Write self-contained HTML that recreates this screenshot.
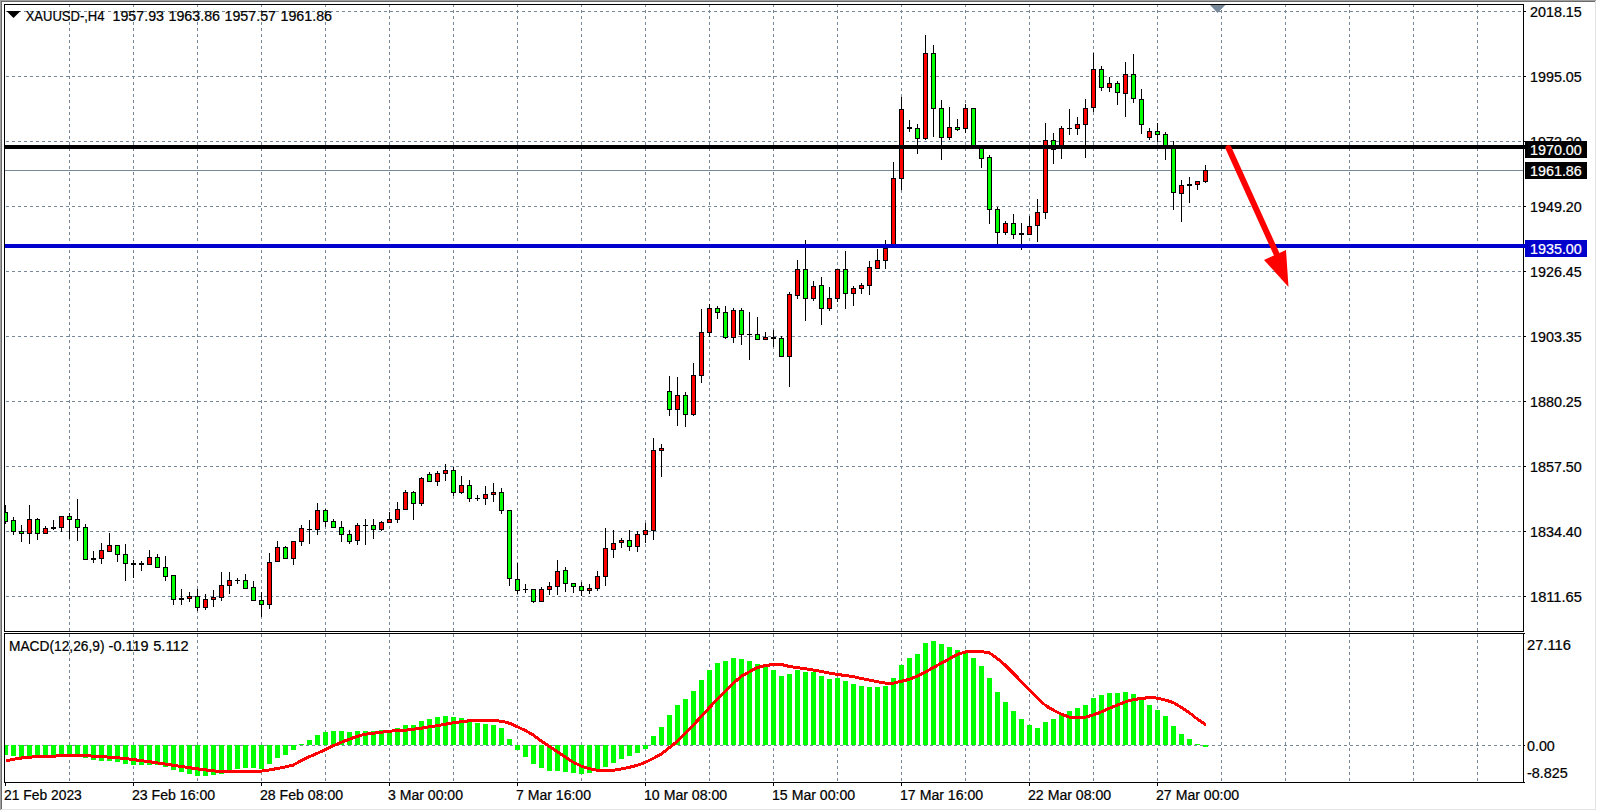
<!DOCTYPE html><html><head><meta charset="utf-8"><title>XAUUSD-,H4</title>
<style>html,body{margin:0;padding:0;background:#fff}body{width:1597px;height:811px;overflow:hidden;position:relative}svg{position:absolute;left:0;top:0;display:block}text{font-family:"Liberation Sans",sans-serif;font-size:14px;fill:#000;stroke:#000;stroke-width:.22px}.w{fill:#fff;stroke:#fff}</style></head><body>
<svg width="1597" height="811" viewBox="0 0 1597 811">
<g shape-rendering="crispEdges">
<rect x="0" y="0" width="1597" height="1" fill="#a0a0a0"/>
<rect x="0" y="0" width="1" height="811" fill="#a0a0a0"/>
<rect x="1" y="1" width="1595" height="1" fill="#696969"/>
<rect x="1" y="1" width="1" height="809" fill="#696969"/>
<rect x="1" y="809" width="1595" height="1" fill="#e3e3e3"/>
<rect x="1595" y="1" width="1" height="809" fill="#e3e3e3"/>
<rect x="0" y="810" width="1597" height="1" fill="#fff"/>
<rect x="1596" y="0" width="1" height="811" fill="#fff"/>
<line x1="69.5" y1="4" x2="69.5" y2="631" stroke="#778899" stroke-width="1" stroke-dasharray="3 3" stroke-dashoffset="0"/>
<line x1="69.5" y1="634" x2="69.5" y2="782" stroke="#778899" stroke-width="1" stroke-dasharray="3 3" stroke-dashoffset="0"/>
<line x1="133.5" y1="4" x2="133.5" y2="631" stroke="#778899" stroke-width="1" stroke-dasharray="3 3" stroke-dashoffset="0"/>
<line x1="133.5" y1="634" x2="133.5" y2="782" stroke="#778899" stroke-width="1" stroke-dasharray="3 3" stroke-dashoffset="0"/>
<line x1="197.5" y1="4" x2="197.5" y2="631" stroke="#778899" stroke-width="1" stroke-dasharray="3 3" stroke-dashoffset="0"/>
<line x1="197.5" y1="634" x2="197.5" y2="782" stroke="#778899" stroke-width="1" stroke-dasharray="3 3" stroke-dashoffset="0"/>
<line x1="261.5" y1="4" x2="261.5" y2="631" stroke="#778899" stroke-width="1" stroke-dasharray="3 3" stroke-dashoffset="0"/>
<line x1="261.5" y1="634" x2="261.5" y2="782" stroke="#778899" stroke-width="1" stroke-dasharray="3 3" stroke-dashoffset="0"/>
<line x1="325.5" y1="4" x2="325.5" y2="631" stroke="#778899" stroke-width="1" stroke-dasharray="3 3" stroke-dashoffset="0"/>
<line x1="325.5" y1="634" x2="325.5" y2="782" stroke="#778899" stroke-width="1" stroke-dasharray="3 3" stroke-dashoffset="0"/>
<line x1="389.5" y1="4" x2="389.5" y2="631" stroke="#778899" stroke-width="1" stroke-dasharray="3 3" stroke-dashoffset="0"/>
<line x1="389.5" y1="634" x2="389.5" y2="782" stroke="#778899" stroke-width="1" stroke-dasharray="3 3" stroke-dashoffset="0"/>
<line x1="453.5" y1="4" x2="453.5" y2="631" stroke="#778899" stroke-width="1" stroke-dasharray="3 3" stroke-dashoffset="0"/>
<line x1="453.5" y1="634" x2="453.5" y2="782" stroke="#778899" stroke-width="1" stroke-dasharray="3 3" stroke-dashoffset="0"/>
<line x1="517.5" y1="4" x2="517.5" y2="631" stroke="#778899" stroke-width="1" stroke-dasharray="3 3" stroke-dashoffset="0"/>
<line x1="517.5" y1="634" x2="517.5" y2="782" stroke="#778899" stroke-width="1" stroke-dasharray="3 3" stroke-dashoffset="0"/>
<line x1="581.5" y1="4" x2="581.5" y2="631" stroke="#778899" stroke-width="1" stroke-dasharray="3 3" stroke-dashoffset="0"/>
<line x1="581.5" y1="634" x2="581.5" y2="782" stroke="#778899" stroke-width="1" stroke-dasharray="3 3" stroke-dashoffset="0"/>
<line x1="645.5" y1="4" x2="645.5" y2="631" stroke="#778899" stroke-width="1" stroke-dasharray="3 3" stroke-dashoffset="0"/>
<line x1="645.5" y1="634" x2="645.5" y2="782" stroke="#778899" stroke-width="1" stroke-dasharray="3 3" stroke-dashoffset="0"/>
<line x1="709.5" y1="4" x2="709.5" y2="631" stroke="#778899" stroke-width="1" stroke-dasharray="3 3" stroke-dashoffset="0"/>
<line x1="709.5" y1="634" x2="709.5" y2="782" stroke="#778899" stroke-width="1" stroke-dasharray="3 3" stroke-dashoffset="0"/>
<line x1="773.5" y1="4" x2="773.5" y2="631" stroke="#778899" stroke-width="1" stroke-dasharray="3 3" stroke-dashoffset="0"/>
<line x1="773.5" y1="634" x2="773.5" y2="782" stroke="#778899" stroke-width="1" stroke-dasharray="3 3" stroke-dashoffset="0"/>
<line x1="837.5" y1="4" x2="837.5" y2="631" stroke="#778899" stroke-width="1" stroke-dasharray="3 3" stroke-dashoffset="0"/>
<line x1="837.5" y1="634" x2="837.5" y2="782" stroke="#778899" stroke-width="1" stroke-dasharray="3 3" stroke-dashoffset="0"/>
<line x1="901.5" y1="4" x2="901.5" y2="631" stroke="#778899" stroke-width="1" stroke-dasharray="3 3" stroke-dashoffset="0"/>
<line x1="901.5" y1="634" x2="901.5" y2="782" stroke="#778899" stroke-width="1" stroke-dasharray="3 3" stroke-dashoffset="0"/>
<line x1="965.5" y1="4" x2="965.5" y2="631" stroke="#778899" stroke-width="1" stroke-dasharray="3 3" stroke-dashoffset="0"/>
<line x1="965.5" y1="634" x2="965.5" y2="782" stroke="#778899" stroke-width="1" stroke-dasharray="3 3" stroke-dashoffset="0"/>
<line x1="1029.5" y1="4" x2="1029.5" y2="631" stroke="#778899" stroke-width="1" stroke-dasharray="3 3" stroke-dashoffset="0"/>
<line x1="1029.5" y1="634" x2="1029.5" y2="782" stroke="#778899" stroke-width="1" stroke-dasharray="3 3" stroke-dashoffset="0"/>
<line x1="1093.5" y1="4" x2="1093.5" y2="631" stroke="#778899" stroke-width="1" stroke-dasharray="3 3" stroke-dashoffset="0"/>
<line x1="1093.5" y1="634" x2="1093.5" y2="782" stroke="#778899" stroke-width="1" stroke-dasharray="3 3" stroke-dashoffset="0"/>
<line x1="1157.5" y1="4" x2="1157.5" y2="631" stroke="#778899" stroke-width="1" stroke-dasharray="3 3" stroke-dashoffset="0"/>
<line x1="1157.5" y1="634" x2="1157.5" y2="782" stroke="#778899" stroke-width="1" stroke-dasharray="3 3" stroke-dashoffset="0"/>
<line x1="1221.5" y1="4" x2="1221.5" y2="631" stroke="#778899" stroke-width="1" stroke-dasharray="3 3" stroke-dashoffset="0"/>
<line x1="1221.5" y1="634" x2="1221.5" y2="782" stroke="#778899" stroke-width="1" stroke-dasharray="3 3" stroke-dashoffset="0"/>
<line x1="1285.5" y1="4" x2="1285.5" y2="631" stroke="#778899" stroke-width="1" stroke-dasharray="3 3" stroke-dashoffset="0"/>
<line x1="1285.5" y1="634" x2="1285.5" y2="782" stroke="#778899" stroke-width="1" stroke-dasharray="3 3" stroke-dashoffset="0"/>
<line x1="1349.5" y1="4" x2="1349.5" y2="631" stroke="#778899" stroke-width="1" stroke-dasharray="3 3" stroke-dashoffset="0"/>
<line x1="1349.5" y1="634" x2="1349.5" y2="782" stroke="#778899" stroke-width="1" stroke-dasharray="3 3" stroke-dashoffset="0"/>
<line x1="1413.5" y1="4" x2="1413.5" y2="631" stroke="#778899" stroke-width="1" stroke-dasharray="3 3" stroke-dashoffset="0"/>
<line x1="1413.5" y1="634" x2="1413.5" y2="782" stroke="#778899" stroke-width="1" stroke-dasharray="3 3" stroke-dashoffset="0"/>
<line x1="1477.5" y1="4" x2="1477.5" y2="631" stroke="#778899" stroke-width="1" stroke-dasharray="3 3" stroke-dashoffset="0"/>
<line x1="1477.5" y1="634" x2="1477.5" y2="782" stroke="#778899" stroke-width="1" stroke-dasharray="3 3" stroke-dashoffset="0"/>
<line x1="6" y1="11.5" x2="1523" y2="11.5" stroke="#778899" stroke-width="1" stroke-dasharray="3 3"/>
<line x1="6" y1="76.5" x2="1523" y2="76.5" stroke="#778899" stroke-width="1" stroke-dasharray="3 3"/>
<line x1="6" y1="141.5" x2="1523" y2="141.5" stroke="#778899" stroke-width="1" stroke-dasharray="3 3"/>
<line x1="6" y1="206.5" x2="1523" y2="206.5" stroke="#778899" stroke-width="1" stroke-dasharray="3 3"/>
<line x1="6" y1="271.5" x2="1523" y2="271.5" stroke="#778899" stroke-width="1" stroke-dasharray="3 3"/>
<line x1="6" y1="336.5" x2="1523" y2="336.5" stroke="#778899" stroke-width="1" stroke-dasharray="3 3"/>
<line x1="6" y1="401.5" x2="1523" y2="401.5" stroke="#778899" stroke-width="1" stroke-dasharray="3 3"/>
<line x1="6" y1="466.5" x2="1523" y2="466.5" stroke="#778899" stroke-width="1" stroke-dasharray="3 3"/>
<line x1="6" y1="531.5" x2="1523" y2="531.5" stroke="#778899" stroke-width="1" stroke-dasharray="3 3"/>
<line x1="6" y1="596.5" x2="1523" y2="596.5" stroke="#778899" stroke-width="1" stroke-dasharray="3 3"/>
<line x1="6" y1="745.5" x2="1523" y2="745.5" stroke="#778899" stroke-width="1" stroke-dasharray="3 3"/>
<polygon points="1210,5 1225.3,5 1217.6,13" fill="#778899" shape-rendering="auto"/>
<rect x="5" y="170" width="1518" height="1" fill="#778899"/>
<rect x="5" y="505" width="1" height="19" fill="#000"/>
<rect x="3" y="512" width="5" height="10" fill="#000"/>
<rect x="4" y="513" width="3" height="8" fill="#0f0"/>
<rect x="13" y="517" width="1" height="18" fill="#000"/>
<rect x="11" y="520" width="5" height="12" fill="#000"/>
<rect x="12" y="521" width="3" height="10" fill="#0f0"/>
<rect x="21" y="525" width="1" height="17" fill="#000"/>
<rect x="19" y="531" width="5" height="3" fill="#000"/>
<rect x="20" y="532" width="3" height="1" fill="#0f0"/>
<rect x="29" y="505" width="1" height="39" fill="#000"/>
<rect x="27" y="519" width="5" height="15" fill="#000"/>
<rect x="28" y="520" width="3" height="13" fill="#f00"/>
<rect x="37" y="518" width="1" height="22" fill="#000"/>
<rect x="35" y="519" width="5" height="15" fill="#000"/>
<rect x="36" y="520" width="3" height="13" fill="#0f0"/>
<rect x="45" y="526" width="1" height="8" fill="#000"/>
<rect x="43" y="528" width="5" height="6" fill="#000"/>
<rect x="44" y="529" width="3" height="4" fill="#f00"/>
<rect x="53" y="520" width="1" height="10" fill="#000"/>
<rect x="51" y="527" width="5" height="2" fill="#000"/>
<rect x="61" y="516" width="1" height="16" fill="#000"/>
<rect x="59" y="516" width="5" height="12" fill="#000"/>
<rect x="60" y="517" width="3" height="10" fill="#f00"/>
<rect x="69" y="513" width="1" height="26" fill="#000"/>
<rect x="67" y="516" width="5" height="4" fill="#000"/>
<rect x="68" y="517" width="3" height="2" fill="#0f0"/>
<rect x="77" y="499" width="1" height="42" fill="#000"/>
<rect x="75" y="519" width="5" height="9" fill="#000"/>
<rect x="76" y="520" width="3" height="7" fill="#0f0"/>
<rect x="85" y="524" width="1" height="36" fill="#000"/>
<rect x="83" y="527" width="5" height="33" fill="#000"/>
<rect x="84" y="528" width="3" height="31" fill="#0f0"/>
<rect x="93" y="551" width="1" height="12" fill="#000"/>
<rect x="91" y="558" width="5" height="2" fill="#000"/>
<rect x="101" y="543" width="1" height="21" fill="#000"/>
<rect x="99" y="550" width="5" height="9" fill="#000"/>
<rect x="100" y="551" width="3" height="7" fill="#f00"/>
<rect x="109" y="533" width="1" height="19" fill="#000"/>
<rect x="107" y="545" width="5" height="7" fill="#000"/>
<rect x="108" y="546" width="3" height="5" fill="#f00"/>
<rect x="117" y="545" width="1" height="17" fill="#000"/>
<rect x="115" y="545" width="5" height="10" fill="#000"/>
<rect x="116" y="546" width="3" height="8" fill="#0f0"/>
<rect x="125" y="544" width="1" height="37" fill="#000"/>
<rect x="123" y="554" width="5" height="10" fill="#000"/>
<rect x="124" y="555" width="3" height="8" fill="#0f0"/>
<rect x="133" y="560" width="1" height="18" fill="#000"/>
<rect x="131" y="563" width="5" height="2" fill="#000"/>
<rect x="141" y="561" width="1" height="10" fill="#000"/>
<rect x="139" y="563" width="5" height="2" fill="#000"/>
<rect x="149" y="550" width="1" height="15" fill="#000"/>
<rect x="147" y="557" width="5" height="8" fill="#000"/>
<rect x="148" y="558" width="3" height="6" fill="#f00"/>
<rect x="157" y="554" width="1" height="14" fill="#000"/>
<rect x="155" y="557" width="5" height="11" fill="#000"/>
<rect x="156" y="558" width="3" height="9" fill="#0f0"/>
<rect x="165" y="556" width="1" height="25" fill="#000"/>
<rect x="163" y="567" width="5" height="10" fill="#000"/>
<rect x="164" y="568" width="3" height="8" fill="#0f0"/>
<rect x="173" y="575" width="1" height="30" fill="#000"/>
<rect x="171" y="575" width="5" height="25" fill="#000"/>
<rect x="172" y="576" width="3" height="23" fill="#0f0"/>
<rect x="181" y="589" width="1" height="16" fill="#000"/>
<rect x="179" y="598" width="5" height="2" fill="#000"/>
<rect x="189" y="592" width="1" height="10" fill="#000"/>
<rect x="187" y="596" width="5" height="3" fill="#000"/>
<rect x="188" y="597" width="3" height="1" fill="#f00"/>
<rect x="197" y="589" width="1" height="22" fill="#000"/>
<rect x="195" y="596" width="5" height="12" fill="#000"/>
<rect x="196" y="597" width="3" height="10" fill="#0f0"/>
<rect x="205" y="594" width="1" height="16" fill="#000"/>
<rect x="203" y="599" width="5" height="9" fill="#000"/>
<rect x="204" y="600" width="3" height="7" fill="#f00"/>
<rect x="213" y="590" width="1" height="17" fill="#000"/>
<rect x="211" y="597" width="5" height="3" fill="#000"/>
<rect x="212" y="598" width="3" height="1" fill="#f00"/>
<rect x="221" y="572" width="1" height="29" fill="#000"/>
<rect x="219" y="585" width="5" height="13" fill="#000"/>
<rect x="220" y="586" width="3" height="11" fill="#f00"/>
<rect x="229" y="572" width="1" height="22" fill="#000"/>
<rect x="227" y="580" width="5" height="6" fill="#000"/>
<rect x="228" y="581" width="3" height="4" fill="#f00"/>
<rect x="237" y="578" width="1" height="6" fill="#000"/>
<rect x="235" y="580" width="5" height="1" fill="#000"/>
<rect x="245" y="574" width="1" height="15" fill="#000"/>
<rect x="243" y="580" width="5" height="9" fill="#000"/>
<rect x="244" y="581" width="3" height="7" fill="#0f0"/>
<rect x="253" y="581" width="1" height="20" fill="#000"/>
<rect x="251" y="587" width="5" height="14" fill="#000"/>
<rect x="252" y="588" width="3" height="12" fill="#0f0"/>
<rect x="261" y="592" width="1" height="25" fill="#000"/>
<rect x="259" y="600" width="5" height="5" fill="#000"/>
<rect x="260" y="601" width="3" height="3" fill="#0f0"/>
<rect x="269" y="553" width="1" height="56" fill="#000"/>
<rect x="267" y="562" width="5" height="43" fill="#000"/>
<rect x="268" y="563" width="3" height="41" fill="#f00"/>
<rect x="277" y="541" width="1" height="21" fill="#000"/>
<rect x="275" y="547" width="5" height="15" fill="#000"/>
<rect x="276" y="548" width="3" height="13" fill="#f00"/>
<rect x="285" y="546" width="1" height="13" fill="#000"/>
<rect x="283" y="547" width="5" height="12" fill="#000"/>
<rect x="284" y="548" width="3" height="10" fill="#0f0"/>
<rect x="293" y="541" width="1" height="24" fill="#000"/>
<rect x="291" y="541" width="5" height="18" fill="#000"/>
<rect x="292" y="542" width="3" height="16" fill="#f00"/>
<rect x="301" y="525" width="1" height="21" fill="#000"/>
<rect x="299" y="528" width="5" height="14" fill="#000"/>
<rect x="300" y="529" width="3" height="12" fill="#f00"/>
<rect x="309" y="520" width="1" height="24" fill="#000"/>
<rect x="307" y="529" width="5" height="1" fill="#000"/>
<rect x="317" y="503" width="1" height="32" fill="#000"/>
<rect x="315" y="510" width="5" height="20" fill="#000"/>
<rect x="316" y="511" width="3" height="18" fill="#f00"/>
<rect x="325" y="509" width="1" height="18" fill="#000"/>
<rect x="323" y="510" width="5" height="12" fill="#000"/>
<rect x="324" y="511" width="3" height="10" fill="#0f0"/>
<rect x="333" y="519" width="1" height="9" fill="#000"/>
<rect x="331" y="521" width="5" height="7" fill="#000"/>
<rect x="332" y="522" width="3" height="5" fill="#0f0"/>
<rect x="341" y="521" width="1" height="21" fill="#000"/>
<rect x="339" y="527" width="5" height="8" fill="#000"/>
<rect x="340" y="528" width="3" height="6" fill="#0f0"/>
<rect x="349" y="530" width="1" height="14" fill="#000"/>
<rect x="347" y="534" width="5" height="8" fill="#000"/>
<rect x="348" y="535" width="3" height="6" fill="#0f0"/>
<rect x="357" y="523" width="1" height="22" fill="#000"/>
<rect x="355" y="525" width="5" height="16" fill="#000"/>
<rect x="356" y="526" width="3" height="14" fill="#f00"/>
<rect x="365" y="519" width="1" height="26" fill="#000"/>
<rect x="363" y="525" width="5" height="1" fill="#000"/>
<rect x="373" y="519" width="1" height="20" fill="#000"/>
<rect x="371" y="525" width="5" height="5" fill="#000"/>
<rect x="372" y="526" width="3" height="3" fill="#0f0"/>
<rect x="381" y="521" width="1" height="10" fill="#000"/>
<rect x="379" y="522" width="5" height="8" fill="#000"/>
<rect x="380" y="523" width="3" height="6" fill="#f00"/>
<rect x="389" y="512" width="1" height="11" fill="#000"/>
<rect x="387" y="519" width="5" height="4" fill="#000"/>
<rect x="388" y="520" width="3" height="2" fill="#f00"/>
<rect x="397" y="502" width="1" height="21" fill="#000"/>
<rect x="395" y="509" width="5" height="11" fill="#000"/>
<rect x="396" y="510" width="3" height="9" fill="#f00"/>
<rect x="405" y="490" width="1" height="20" fill="#000"/>
<rect x="403" y="492" width="5" height="18" fill="#000"/>
<rect x="404" y="493" width="3" height="16" fill="#f00"/>
<rect x="413" y="491" width="1" height="29" fill="#000"/>
<rect x="411" y="492" width="5" height="12" fill="#000"/>
<rect x="412" y="493" width="3" height="10" fill="#0f0"/>
<rect x="421" y="477" width="1" height="29" fill="#000"/>
<rect x="419" y="478" width="5" height="26" fill="#000"/>
<rect x="420" y="479" width="3" height="24" fill="#f00"/>
<rect x="429" y="472" width="1" height="10" fill="#000"/>
<rect x="427" y="474" width="5" height="8" fill="#000"/>
<rect x="428" y="475" width="3" height="6" fill="#0f0"/>
<rect x="437" y="471" width="1" height="15" fill="#000"/>
<rect x="435" y="473" width="5" height="9" fill="#000"/>
<rect x="436" y="474" width="3" height="7" fill="#f00"/>
<rect x="445" y="464" width="1" height="17" fill="#000"/>
<rect x="443" y="470" width="5" height="4" fill="#000"/>
<rect x="444" y="471" width="3" height="2" fill="#f00"/>
<rect x="453" y="467" width="1" height="29" fill="#000"/>
<rect x="451" y="470" width="5" height="23" fill="#000"/>
<rect x="452" y="471" width="3" height="21" fill="#0f0"/>
<rect x="461" y="476" width="1" height="18" fill="#000"/>
<rect x="459" y="485" width="5" height="8" fill="#000"/>
<rect x="460" y="486" width="3" height="6" fill="#f00"/>
<rect x="469" y="480" width="1" height="22" fill="#000"/>
<rect x="467" y="485" width="5" height="14" fill="#000"/>
<rect x="468" y="486" width="3" height="12" fill="#0f0"/>
<rect x="477" y="495" width="1" height="6" fill="#000"/>
<rect x="475" y="498" width="5" height="1" fill="#000"/>
<rect x="485" y="486" width="1" height="19" fill="#000"/>
<rect x="483" y="494" width="5" height="5" fill="#000"/>
<rect x="484" y="495" width="3" height="3" fill="#f00"/>
<rect x="493" y="483" width="1" height="19" fill="#000"/>
<rect x="491" y="492" width="5" height="3" fill="#000"/>
<rect x="492" y="493" width="3" height="1" fill="#f00"/>
<rect x="501" y="488" width="1" height="26" fill="#000"/>
<rect x="499" y="492" width="5" height="19" fill="#000"/>
<rect x="500" y="493" width="3" height="17" fill="#0f0"/>
<rect x="509" y="510" width="1" height="76" fill="#000"/>
<rect x="507" y="510" width="5" height="69" fill="#000"/>
<rect x="508" y="511" width="3" height="67" fill="#0f0"/>
<rect x="517" y="563" width="1" height="31" fill="#000"/>
<rect x="515" y="579" width="5" height="12" fill="#000"/>
<rect x="516" y="580" width="3" height="10" fill="#0f0"/>
<rect x="525" y="584" width="1" height="9" fill="#000"/>
<rect x="523" y="589" width="5" height="1" fill="#000"/>
<rect x="533" y="589" width="1" height="14" fill="#000"/>
<rect x="531" y="589" width="5" height="13" fill="#000"/>
<rect x="532" y="590" width="3" height="11" fill="#0f0"/>
<rect x="541" y="587" width="1" height="15" fill="#000"/>
<rect x="539" y="589" width="5" height="13" fill="#000"/>
<rect x="540" y="590" width="3" height="11" fill="#f00"/>
<rect x="549" y="582" width="1" height="13" fill="#000"/>
<rect x="547" y="586" width="5" height="4" fill="#000"/>
<rect x="548" y="587" width="3" height="2" fill="#f00"/>
<rect x="557" y="560" width="1" height="35" fill="#000"/>
<rect x="555" y="571" width="5" height="16" fill="#000"/>
<rect x="556" y="572" width="3" height="14" fill="#f00"/>
<rect x="565" y="567" width="1" height="25" fill="#000"/>
<rect x="563" y="570" width="5" height="14" fill="#000"/>
<rect x="564" y="571" width="3" height="12" fill="#0f0"/>
<rect x="573" y="583" width="1" height="10" fill="#000"/>
<rect x="571" y="583" width="5" height="4" fill="#000"/>
<rect x="572" y="584" width="3" height="2" fill="#0f0"/>
<rect x="581" y="582" width="1" height="14" fill="#000"/>
<rect x="579" y="586" width="5" height="5" fill="#000"/>
<rect x="580" y="587" width="3" height="3" fill="#0f0"/>
<rect x="589" y="584" width="1" height="10" fill="#000"/>
<rect x="587" y="588" width="5" height="3" fill="#000"/>
<rect x="588" y="589" width="3" height="1" fill="#f00"/>
<rect x="597" y="571" width="1" height="20" fill="#000"/>
<rect x="595" y="576" width="5" height="13" fill="#000"/>
<rect x="596" y="577" width="3" height="11" fill="#f00"/>
<rect x="605" y="528" width="1" height="58" fill="#000"/>
<rect x="603" y="548" width="5" height="29" fill="#000"/>
<rect x="604" y="549" width="3" height="27" fill="#f00"/>
<rect x="613" y="530" width="1" height="28" fill="#000"/>
<rect x="611" y="543" width="5" height="7" fill="#000"/>
<rect x="612" y="544" width="3" height="5" fill="#f00"/>
<rect x="621" y="538" width="1" height="10" fill="#000"/>
<rect x="619" y="540" width="5" height="3" fill="#000"/>
<rect x="620" y="541" width="3" height="1" fill="#f00"/>
<rect x="629" y="530" width="1" height="21" fill="#000"/>
<rect x="627" y="540" width="5" height="7" fill="#000"/>
<rect x="628" y="541" width="3" height="5" fill="#0f0"/>
<rect x="637" y="531" width="1" height="21" fill="#000"/>
<rect x="635" y="534" width="5" height="13" fill="#000"/>
<rect x="636" y="535" width="3" height="11" fill="#f00"/>
<rect x="645" y="523" width="1" height="20" fill="#000"/>
<rect x="643" y="530" width="5" height="5" fill="#000"/>
<rect x="644" y="531" width="3" height="3" fill="#f00"/>
<rect x="653" y="438" width="1" height="102" fill="#000"/>
<rect x="651" y="450" width="5" height="81" fill="#000"/>
<rect x="652" y="451" width="3" height="79" fill="#f00"/>
<rect x="661" y="444" width="1" height="33" fill="#000"/>
<rect x="659" y="448" width="5" height="3" fill="#000"/>
<rect x="660" y="449" width="3" height="1" fill="#f00"/>
<rect x="669" y="376" width="1" height="40" fill="#000"/>
<rect x="667" y="391" width="5" height="19" fill="#000"/>
<rect x="668" y="392" width="3" height="17" fill="#0f0"/>
<rect x="677" y="377" width="1" height="49" fill="#000"/>
<rect x="675" y="395" width="5" height="15" fill="#000"/>
<rect x="676" y="396" width="3" height="13" fill="#f00"/>
<rect x="685" y="392" width="1" height="35" fill="#000"/>
<rect x="683" y="395" width="5" height="20" fill="#000"/>
<rect x="684" y="396" width="3" height="18" fill="#0f0"/>
<rect x="693" y="363" width="1" height="53" fill="#000"/>
<rect x="691" y="375" width="5" height="40" fill="#000"/>
<rect x="692" y="376" width="3" height="38" fill="#f00"/>
<rect x="701" y="309" width="1" height="74" fill="#000"/>
<rect x="699" y="332" width="5" height="44" fill="#000"/>
<rect x="700" y="333" width="3" height="42" fill="#f00"/>
<rect x="709" y="304" width="1" height="33" fill="#000"/>
<rect x="707" y="308" width="5" height="25" fill="#000"/>
<rect x="708" y="309" width="3" height="23" fill="#f00"/>
<rect x="717" y="306" width="1" height="13" fill="#000"/>
<rect x="715" y="308" width="5" height="5" fill="#000"/>
<rect x="716" y="309" width="3" height="3" fill="#0f0"/>
<rect x="725" y="306" width="1" height="33" fill="#000"/>
<rect x="723" y="312" width="5" height="26" fill="#000"/>
<rect x="724" y="313" width="3" height="24" fill="#0f0"/>
<rect x="733" y="308" width="1" height="35" fill="#000"/>
<rect x="731" y="310" width="5" height="28" fill="#000"/>
<rect x="732" y="311" width="3" height="26" fill="#f00"/>
<rect x="741" y="308" width="1" height="37" fill="#000"/>
<rect x="739" y="310" width="5" height="25" fill="#000"/>
<rect x="740" y="311" width="3" height="23" fill="#0f0"/>
<rect x="749" y="312" width="1" height="48" fill="#000"/>
<rect x="747" y="334" width="5" height="1" fill="#000"/>
<rect x="757" y="317" width="1" height="23" fill="#000"/>
<rect x="755" y="334" width="5" height="6" fill="#000"/>
<rect x="756" y="335" width="3" height="4" fill="#0f0"/>
<rect x="765" y="332" width="1" height="8" fill="#000"/>
<rect x="763" y="337" width="5" height="3" fill="#000"/>
<rect x="764" y="338" width="3" height="1" fill="#f00"/>
<rect x="773" y="330" width="1" height="17" fill="#000"/>
<rect x="771" y="337" width="5" height="2" fill="#000"/>
<rect x="781" y="336" width="1" height="21" fill="#000"/>
<rect x="779" y="338" width="5" height="19" fill="#000"/>
<rect x="780" y="339" width="3" height="17" fill="#0f0"/>
<rect x="789" y="292" width="1" height="95" fill="#000"/>
<rect x="787" y="294" width="5" height="63" fill="#000"/>
<rect x="788" y="295" width="3" height="61" fill="#f00"/>
<rect x="797" y="260" width="1" height="39" fill="#000"/>
<rect x="795" y="269" width="5" height="27" fill="#000"/>
<rect x="796" y="270" width="3" height="25" fill="#f00"/>
<rect x="805" y="240" width="1" height="81" fill="#000"/>
<rect x="803" y="269" width="5" height="30" fill="#000"/>
<rect x="804" y="270" width="3" height="28" fill="#0f0"/>
<rect x="813" y="281" width="1" height="20" fill="#000"/>
<rect x="811" y="286" width="5" height="13" fill="#000"/>
<rect x="812" y="287" width="3" height="11" fill="#f00"/>
<rect x="821" y="277" width="1" height="48" fill="#000"/>
<rect x="819" y="285" width="5" height="24" fill="#000"/>
<rect x="820" y="286" width="3" height="22" fill="#0f0"/>
<rect x="829" y="287" width="1" height="24" fill="#000"/>
<rect x="827" y="298" width="5" height="11" fill="#000"/>
<rect x="828" y="299" width="3" height="9" fill="#f00"/>
<rect x="837" y="269" width="1" height="33" fill="#000"/>
<rect x="835" y="269" width="5" height="30" fill="#000"/>
<rect x="836" y="270" width="3" height="28" fill="#f00"/>
<rect x="845" y="251" width="1" height="58" fill="#000"/>
<rect x="843" y="269" width="5" height="25" fill="#000"/>
<rect x="844" y="270" width="3" height="23" fill="#0f0"/>
<rect x="853" y="286" width="1" height="20" fill="#000"/>
<rect x="851" y="288" width="5" height="6" fill="#000"/>
<rect x="852" y="289" width="3" height="4" fill="#f00"/>
<rect x="861" y="283" width="1" height="11" fill="#000"/>
<rect x="859" y="285" width="5" height="4" fill="#000"/>
<rect x="860" y="286" width="3" height="2" fill="#f00"/>
<rect x="869" y="261" width="1" height="34" fill="#000"/>
<rect x="867" y="267" width="5" height="19" fill="#000"/>
<rect x="868" y="268" width="3" height="17" fill="#f00"/>
<rect x="877" y="249" width="1" height="20" fill="#000"/>
<rect x="875" y="260" width="5" height="9" fill="#000"/>
<rect x="876" y="261" width="3" height="7" fill="#f00"/>
<rect x="885" y="240" width="1" height="29" fill="#000"/>
<rect x="883" y="248" width="5" height="13" fill="#000"/>
<rect x="884" y="249" width="3" height="11" fill="#f00"/>
<rect x="893" y="162" width="1" height="86" fill="#000"/>
<rect x="891" y="178" width="5" height="70" fill="#000"/>
<rect x="892" y="179" width="3" height="68" fill="#f00"/>
<rect x="901" y="97" width="1" height="93" fill="#000"/>
<rect x="899" y="109" width="5" height="70" fill="#000"/>
<rect x="900" y="110" width="3" height="68" fill="#f00"/>
<rect x="909" y="120" width="1" height="12" fill="#000"/>
<rect x="907" y="127" width="5" height="2" fill="#000"/>
<rect x="917" y="124" width="1" height="30" fill="#000"/>
<rect x="915" y="128" width="5" height="11" fill="#000"/>
<rect x="916" y="129" width="3" height="9" fill="#0f0"/>
<rect x="925" y="35" width="1" height="105" fill="#000"/>
<rect x="923" y="53" width="5" height="86" fill="#000"/>
<rect x="924" y="54" width="3" height="84" fill="#f00"/>
<rect x="933" y="45" width="1" height="92" fill="#000"/>
<rect x="931" y="53" width="5" height="56" fill="#000"/>
<rect x="932" y="54" width="3" height="54" fill="#0f0"/>
<rect x="941" y="100" width="1" height="60" fill="#000"/>
<rect x="939" y="108" width="5" height="30" fill="#000"/>
<rect x="940" y="109" width="3" height="28" fill="#0f0"/>
<rect x="949" y="107" width="1" height="33" fill="#000"/>
<rect x="947" y="127" width="5" height="11" fill="#000"/>
<rect x="948" y="128" width="3" height="9" fill="#f00"/>
<rect x="957" y="119" width="1" height="12" fill="#000"/>
<rect x="955" y="127" width="5" height="3" fill="#000"/>
<rect x="956" y="128" width="3" height="1" fill="#0f0"/>
<rect x="965" y="104" width="1" height="29" fill="#000"/>
<rect x="963" y="108" width="5" height="21" fill="#000"/>
<rect x="964" y="109" width="3" height="19" fill="#f00"/>
<rect x="973" y="108" width="1" height="41" fill="#000"/>
<rect x="971" y="108" width="5" height="41" fill="#000"/>
<rect x="972" y="109" width="3" height="39" fill="#0f0"/>
<rect x="981" y="148" width="1" height="20" fill="#000"/>
<rect x="979" y="148" width="5" height="11" fill="#000"/>
<rect x="980" y="149" width="3" height="9" fill="#0f0"/>
<rect x="989" y="155" width="1" height="69" fill="#000"/>
<rect x="987" y="157" width="5" height="53" fill="#000"/>
<rect x="988" y="158" width="3" height="51" fill="#0f0"/>
<rect x="997" y="207" width="1" height="39" fill="#000"/>
<rect x="995" y="209" width="5" height="24" fill="#000"/>
<rect x="996" y="210" width="3" height="22" fill="#0f0"/>
<rect x="1005" y="221" width="1" height="14" fill="#000"/>
<rect x="1003" y="223" width="5" height="10" fill="#000"/>
<rect x="1004" y="224" width="3" height="8" fill="#f00"/>
<rect x="1013" y="214" width="1" height="25" fill="#000"/>
<rect x="1011" y="223" width="5" height="12" fill="#000"/>
<rect x="1012" y="224" width="3" height="10" fill="#0f0"/>
<rect x="1021" y="223" width="1" height="27" fill="#000"/>
<rect x="1019" y="233" width="5" height="2" fill="#000"/>
<rect x="1029" y="216" width="1" height="19" fill="#000"/>
<rect x="1027" y="226" width="5" height="9" fill="#000"/>
<rect x="1028" y="227" width="3" height="7" fill="#f00"/>
<rect x="1037" y="199" width="1" height="43" fill="#000"/>
<rect x="1035" y="212" width="5" height="14" fill="#000"/>
<rect x="1036" y="213" width="3" height="12" fill="#f00"/>
<rect x="1045" y="123" width="1" height="96" fill="#000"/>
<rect x="1043" y="140" width="5" height="73" fill="#000"/>
<rect x="1044" y="141" width="3" height="71" fill="#f00"/>
<rect x="1053" y="133" width="1" height="31" fill="#000"/>
<rect x="1051" y="140" width="5" height="10" fill="#000"/>
<rect x="1052" y="141" width="3" height="8" fill="#0f0"/>
<rect x="1061" y="126" width="1" height="33" fill="#000"/>
<rect x="1059" y="128" width="5" height="19" fill="#000"/>
<rect x="1060" y="129" width="3" height="17" fill="#f00"/>
<rect x="1069" y="109" width="1" height="26" fill="#000"/>
<rect x="1067" y="128" width="5" height="1" fill="#000"/>
<rect x="1077" y="117" width="1" height="18" fill="#000"/>
<rect x="1075" y="124" width="5" height="5" fill="#000"/>
<rect x="1076" y="125" width="3" height="3" fill="#f00"/>
<rect x="1085" y="99" width="1" height="59" fill="#000"/>
<rect x="1083" y="108" width="5" height="17" fill="#000"/>
<rect x="1084" y="109" width="3" height="15" fill="#f00"/>
<rect x="1093" y="53" width="1" height="59" fill="#000"/>
<rect x="1091" y="69" width="5" height="39" fill="#000"/>
<rect x="1092" y="70" width="3" height="37" fill="#f00"/>
<rect x="1101" y="66" width="1" height="25" fill="#000"/>
<rect x="1099" y="69" width="5" height="19" fill="#000"/>
<rect x="1100" y="70" width="3" height="17" fill="#0f0"/>
<rect x="1109" y="77" width="1" height="15" fill="#000"/>
<rect x="1107" y="83" width="5" height="5" fill="#000"/>
<rect x="1108" y="84" width="3" height="3" fill="#f00"/>
<rect x="1117" y="81" width="1" height="24" fill="#000"/>
<rect x="1115" y="83" width="5" height="10" fill="#000"/>
<rect x="1116" y="84" width="3" height="8" fill="#0f0"/>
<rect x="1125" y="62" width="1" height="55" fill="#000"/>
<rect x="1123" y="74" width="5" height="20" fill="#000"/>
<rect x="1124" y="75" width="3" height="18" fill="#f00"/>
<rect x="1133" y="54" width="1" height="49" fill="#000"/>
<rect x="1131" y="74" width="5" height="25" fill="#000"/>
<rect x="1132" y="75" width="3" height="23" fill="#0f0"/>
<rect x="1141" y="89" width="1" height="45" fill="#000"/>
<rect x="1139" y="99" width="5" height="26" fill="#000"/>
<rect x="1140" y="100" width="3" height="24" fill="#0f0"/>
<rect x="1149" y="128" width="1" height="12" fill="#000"/>
<rect x="1147" y="131" width="5" height="7" fill="#000"/>
<rect x="1148" y="132" width="3" height="5" fill="#f00"/>
<rect x="1157" y="123" width="1" height="19" fill="#000"/>
<rect x="1155" y="131" width="5" height="4" fill="#000"/>
<rect x="1156" y="132" width="3" height="2" fill="#0f0"/>
<rect x="1165" y="132" width="1" height="28" fill="#000"/>
<rect x="1163" y="134" width="5" height="13" fill="#000"/>
<rect x="1164" y="135" width="3" height="11" fill="#0f0"/>
<rect x="1173" y="141" width="1" height="69" fill="#000"/>
<rect x="1171" y="146" width="5" height="47" fill="#000"/>
<rect x="1172" y="147" width="3" height="45" fill="#0f0"/>
<rect x="1181" y="180" width="1" height="42" fill="#000"/>
<rect x="1179" y="185" width="5" height="9" fill="#000"/>
<rect x="1180" y="186" width="3" height="7" fill="#f00"/>
<rect x="1189" y="177" width="1" height="26" fill="#000"/>
<rect x="1187" y="184" width="5" height="2" fill="#000"/>
<rect x="1197" y="181" width="1" height="9" fill="#000"/>
<rect x="1195" y="181" width="5" height="4" fill="#000"/>
<rect x="1196" y="182" width="3" height="2" fill="#f00"/>
<rect x="1205" y="165" width="1" height="18" fill="#000"/>
<rect x="1203" y="170" width="5" height="12" fill="#000"/>
<rect x="1204" y="171" width="3" height="10" fill="#f00"/>
<rect x="3" y="745" width="5" height="10" fill="#0f0"/>
<rect x="11" y="745" width="5" height="11" fill="#0f0"/>
<rect x="19" y="745" width="5" height="12" fill="#0f0"/>
<rect x="27" y="745" width="5" height="12" fill="#0f0"/>
<rect x="35" y="745" width="5" height="12" fill="#0f0"/>
<rect x="43" y="745" width="5" height="11" fill="#0f0"/>
<rect x="51" y="745" width="5" height="11" fill="#0f0"/>
<rect x="59" y="745" width="5" height="11" fill="#0f0"/>
<rect x="67" y="745" width="5" height="11" fill="#0f0"/>
<rect x="75" y="745" width="5" height="11" fill="#0f0"/>
<rect x="83" y="745" width="5" height="13" fill="#0f0"/>
<rect x="91" y="745" width="5" height="15" fill="#0f0"/>
<rect x="99" y="745" width="5" height="16" fill="#0f0"/>
<rect x="107" y="745" width="5" height="16" fill="#0f0"/>
<rect x="115" y="745" width="5" height="17" fill="#0f0"/>
<rect x="123" y="745" width="5" height="19" fill="#0f0"/>
<rect x="131" y="745" width="5" height="20" fill="#0f0"/>
<rect x="139" y="745" width="5" height="20" fill="#0f0"/>
<rect x="147" y="745" width="5" height="20" fill="#0f0"/>
<rect x="155" y="745" width="5" height="20" fill="#0f0"/>
<rect x="163" y="745" width="5" height="22" fill="#0f0"/>
<rect x="171" y="745" width="5" height="25" fill="#0f0"/>
<rect x="179" y="745" width="5" height="27" fill="#0f0"/>
<rect x="187" y="745" width="5" height="29" fill="#0f0"/>
<rect x="195" y="745" width="5" height="31" fill="#0f0"/>
<rect x="203" y="745" width="5" height="31" fill="#0f0"/>
<rect x="211" y="745" width="5" height="30" fill="#0f0"/>
<rect x="219" y="745" width="5" height="29" fill="#0f0"/>
<rect x="227" y="745" width="5" height="26" fill="#0f0"/>
<rect x="235" y="745" width="5" height="24" fill="#0f0"/>
<rect x="243" y="745" width="5" height="23" fill="#0f0"/>
<rect x="251" y="745" width="5" height="23" fill="#0f0"/>
<rect x="259" y="745" width="5" height="24" fill="#0f0"/>
<rect x="267" y="745" width="5" height="19" fill="#0f0"/>
<rect x="275" y="745" width="5" height="13" fill="#0f0"/>
<rect x="283" y="745" width="5" height="10" fill="#0f0"/>
<rect x="291" y="745" width="5" height="5" fill="#0f0"/>
<rect x="299" y="744" width="5" height="1" fill="#0f0"/>
<rect x="307" y="740" width="5" height="5" fill="#0f0"/>
<rect x="315" y="735" width="5" height="10" fill="#0f0"/>
<rect x="323" y="732" width="5" height="13" fill="#0f0"/>
<rect x="331" y="731" width="5" height="14" fill="#0f0"/>
<rect x="339" y="731" width="5" height="14" fill="#0f0"/>
<rect x="347" y="732" width="5" height="13" fill="#0f0"/>
<rect x="355" y="731" width="5" height="14" fill="#0f0"/>
<rect x="363" y="731" width="5" height="14" fill="#0f0"/>
<rect x="371" y="731" width="5" height="14" fill="#0f0"/>
<rect x="379" y="730" width="5" height="15" fill="#0f0"/>
<rect x="387" y="730" width="5" height="15" fill="#0f0"/>
<rect x="395" y="728" width="5" height="17" fill="#0f0"/>
<rect x="403" y="725" width="5" height="20" fill="#0f0"/>
<rect x="411" y="725" width="5" height="20" fill="#0f0"/>
<rect x="419" y="721" width="5" height="24" fill="#0f0"/>
<rect x="427" y="719" width="5" height="26" fill="#0f0"/>
<rect x="435" y="717" width="5" height="28" fill="#0f0"/>
<rect x="443" y="716" width="5" height="29" fill="#0f0"/>
<rect x="451" y="717" width="5" height="28" fill="#0f0"/>
<rect x="459" y="718" width="5" height="27" fill="#0f0"/>
<rect x="467" y="721" width="5" height="24" fill="#0f0"/>
<rect x="475" y="723" width="5" height="22" fill="#0f0"/>
<rect x="483" y="724" width="5" height="21" fill="#0f0"/>
<rect x="491" y="725" width="5" height="20" fill="#0f0"/>
<rect x="499" y="728" width="5" height="17" fill="#0f0"/>
<rect x="507" y="739" width="5" height="6" fill="#0f0"/>
<rect x="515" y="745" width="5" height="5" fill="#0f0"/>
<rect x="523" y="745" width="5" height="12" fill="#0f0"/>
<rect x="531" y="745" width="5" height="19" fill="#0f0"/>
<rect x="539" y="745" width="5" height="23" fill="#0f0"/>
<rect x="547" y="745" width="5" height="26" fill="#0f0"/>
<rect x="555" y="745" width="5" height="26" fill="#0f0"/>
<rect x="563" y="745" width="5" height="27" fill="#0f0"/>
<rect x="571" y="745" width="5" height="28" fill="#0f0"/>
<rect x="579" y="745" width="5" height="29" fill="#0f0"/>
<rect x="587" y="745" width="5" height="28" fill="#0f0"/>
<rect x="595" y="745" width="5" height="26" fill="#0f0"/>
<rect x="603" y="745" width="5" height="22" fill="#0f0"/>
<rect x="611" y="745" width="5" height="18" fill="#0f0"/>
<rect x="619" y="745" width="5" height="14" fill="#0f0"/>
<rect x="627" y="745" width="5" height="11" fill="#0f0"/>
<rect x="635" y="745" width="5" height="8" fill="#0f0"/>
<rect x="643" y="745" width="5" height="4" fill="#0f0"/>
<rect x="651" y="736" width="5" height="9" fill="#0f0"/>
<rect x="659" y="727" width="5" height="18" fill="#0f0"/>
<rect x="667" y="715" width="5" height="30" fill="#0f0"/>
<rect x="675" y="705" width="5" height="40" fill="#0f0"/>
<rect x="683" y="699" width="5" height="46" fill="#0f0"/>
<rect x="691" y="691" width="5" height="54" fill="#0f0"/>
<rect x="699" y="680" width="5" height="65" fill="#0f0"/>
<rect x="707" y="670" width="5" height="75" fill="#0f0"/>
<rect x="715" y="663" width="5" height="82" fill="#0f0"/>
<rect x="723" y="661" width="5" height="84" fill="#0f0"/>
<rect x="731" y="658" width="5" height="87" fill="#0f0"/>
<rect x="739" y="659" width="5" height="86" fill="#0f0"/>
<rect x="747" y="661" width="5" height="84" fill="#0f0"/>
<rect x="755" y="664" width="5" height="81" fill="#0f0"/>
<rect x="763" y="666" width="5" height="79" fill="#0f0"/>
<rect x="771" y="670" width="5" height="75" fill="#0f0"/>
<rect x="779" y="676" width="5" height="69" fill="#0f0"/>
<rect x="787" y="674" width="5" height="71" fill="#0f0"/>
<rect x="795" y="670" width="5" height="75" fill="#0f0"/>
<rect x="803" y="672" width="5" height="73" fill="#0f0"/>
<rect x="811" y="672" width="5" height="73" fill="#0f0"/>
<rect x="819" y="676" width="5" height="69" fill="#0f0"/>
<rect x="827" y="679" width="5" height="66" fill="#0f0"/>
<rect x="835" y="678" width="5" height="67" fill="#0f0"/>
<rect x="843" y="681" width="5" height="64" fill="#0f0"/>
<rect x="851" y="684" width="5" height="61" fill="#0f0"/>
<rect x="859" y="686" width="5" height="59" fill="#0f0"/>
<rect x="867" y="687" width="5" height="58" fill="#0f0"/>
<rect x="875" y="687" width="5" height="58" fill="#0f0"/>
<rect x="883" y="686" width="5" height="59" fill="#0f0"/>
<rect x="891" y="678" width="5" height="67" fill="#0f0"/>
<rect x="899" y="665" width="5" height="80" fill="#0f0"/>
<rect x="907" y="658" width="5" height="87" fill="#0f0"/>
<rect x="915" y="654" width="5" height="91" fill="#0f0"/>
<rect x="923" y="643" width="5" height="102" fill="#0f0"/>
<rect x="931" y="641" width="5" height="104" fill="#0f0"/>
<rect x="939" y="644" width="5" height="101" fill="#0f0"/>
<rect x="947" y="647" width="5" height="98" fill="#0f0"/>
<rect x="955" y="650" width="5" height="95" fill="#0f0"/>
<rect x="963" y="652" width="5" height="93" fill="#0f0"/>
<rect x="971" y="658" width="5" height="87" fill="#0f0"/>
<rect x="979" y="666" width="5" height="79" fill="#0f0"/>
<rect x="987" y="678" width="5" height="67" fill="#0f0"/>
<rect x="995" y="692" width="5" height="53" fill="#0f0"/>
<rect x="1003" y="702" width="5" height="43" fill="#0f0"/>
<rect x="1011" y="711" width="5" height="34" fill="#0f0"/>
<rect x="1019" y="719" width="5" height="26" fill="#0f0"/>
<rect x="1027" y="725" width="5" height="20" fill="#0f0"/>
<rect x="1035" y="728" width="5" height="17" fill="#0f0"/>
<rect x="1043" y="722" width="5" height="23" fill="#0f0"/>
<rect x="1051" y="719" width="5" height="26" fill="#0f0"/>
<rect x="1059" y="715" width="5" height="30" fill="#0f0"/>
<rect x="1067" y="711" width="5" height="34" fill="#0f0"/>
<rect x="1075" y="708" width="5" height="37" fill="#0f0"/>
<rect x="1083" y="705" width="5" height="40" fill="#0f0"/>
<rect x="1091" y="698" width="5" height="47" fill="#0f0"/>
<rect x="1099" y="695" width="5" height="50" fill="#0f0"/>
<rect x="1107" y="693" width="5" height="52" fill="#0f0"/>
<rect x="1115" y="693" width="5" height="52" fill="#0f0"/>
<rect x="1123" y="692" width="5" height="53" fill="#0f0"/>
<rect x="1131" y="694" width="5" height="51" fill="#0f0"/>
<rect x="1139" y="698" width="5" height="47" fill="#0f0"/>
<rect x="1147" y="705" width="5" height="40" fill="#0f0"/>
<rect x="1155" y="710" width="5" height="35" fill="#0f0"/>
<rect x="1163" y="716" width="5" height="29" fill="#0f0"/>
<rect x="1171" y="726" width="5" height="19" fill="#0f0"/>
<rect x="1179" y="734" width="5" height="11" fill="#0f0"/>
<rect x="1187" y="739" width="5" height="6" fill="#0f0"/>
<rect x="1195" y="744" width="5" height="1" fill="#0f0"/>
<rect x="1203" y="745" width="5" height="2" fill="#0f0"/>
<polygon points="5.5,759.46 13.5,757.67 21.5,756.49 29.5,755.69 37.5,755.00 45.5,754.90 53.5,754.70 61.5,754.00 69.5,753.90 77.5,753.90 85.5,754.00 93.5,754.80 101.5,755.20 109.5,755.70 117.5,756.19 125.5,757.09 133.5,758.09 141.5,759.19 149.5,760.19 157.5,761.38 165.5,762.58 173.5,763.78 181.5,764.98 189.5,766.18 197.5,767.39 205.5,768.39 213.5,769.39 221.5,770.00 229.5,770.40 237.5,770.40 245.5,770.40 253.5,770.00 261.5,769.59 269.5,768.38 277.5,766.97 285.5,765.36 293.5,763.28 301.5,758.81 309.5,754.95 317.5,751.56 325.5,747.94 333.5,743.95 341.5,740.58 349.5,737.60 357.5,734.63 365.5,732.67 373.5,731.69 381.5,730.69 389.5,729.69 397.5,729.10 405.5,728.69 413.5,727.69 421.5,726.68 429.5,725.28 437.5,724.08 445.5,722.68 453.5,721.28 461.5,720.09 469.5,719.30 477.5,719.10 485.5,719.10 493.5,719.10 501.5,719.68 509.5,721.61 517.5,725.15 525.5,728.91 533.5,733.40 541.5,739.36 549.5,744.80 557.5,750.00 565.5,755.41 573.5,760.57 581.5,764.68 589.5,767.15 597.5,768.79 605.5,769.00 613.5,768.79 621.5,767.37 629.5,765.76 637.5,763.73 645.5,760.66 653.5,756.60 661.5,752.00 669.5,745.69 677.5,739.18 685.5,731.05 693.5,722.61 701.5,713.99 709.5,705.30 717.5,696.95 725.5,688.98 733.5,681.04 741.5,674.26 749.5,670.00 757.5,665.89 765.5,663.97 773.5,663.00 781.5,662.99 789.5,664.97 797.5,666.19 805.5,667.18 813.5,668.58 821.5,669.97 829.5,671.57 837.5,672.98 845.5,673.99 853.5,675.17 861.5,676.97 869.5,678.57 877.5,680.17 885.5,681.59 893.5,681.59 901.5,679.76 909.5,677.72 917.5,674.26 925.5,670.41 933.5,665.78 941.5,661.39 949.5,656.99 957.5,652.77 965.5,650.47 973.5,649.50 981.5,650.09 989.5,651.36 997.5,656.80 1005.5,663.46 1013.5,671.37 1021.5,679.57 1029.5,687.58 1037.5,695.59 1045.5,703.60 1053.5,708.49 1061.5,712.56 1069.5,715.67 1077.5,716.10 1085.5,715.68 1093.5,713.22 1101.5,710.18 1109.5,706.57 1117.5,703.48 1125.5,700.11 1133.5,697.97 1141.5,696.99 1149.5,696.00 1157.5,696.58 1165.5,698.54 1173.5,701.05 1181.5,705.73 1189.5,710.94 1197.5,717.34 1205.5,722.79 1205.5,726.41 1197.5,721.06 1189.5,714.66 1181.5,709.27 1173.5,704.35 1165.5,701.66 1157.5,699.62 1149.5,699.00 1141.5,700.01 1133.5,701.03 1125.5,703.29 1117.5,706.72 1109.5,709.83 1101.5,713.42 1093.5,716.38 1085.5,718.72 1077.5,719.10 1069.5,718.73 1061.5,715.84 1053.5,711.91 1045.5,707.40 1037.5,699.81 1029.5,691.82 1021.5,683.83 1013.5,675.63 1005.5,667.54 997.5,660.60 989.5,654.64 981.5,653.11 973.5,652.50 965.5,653.53 957.5,656.03 949.5,660.41 941.5,664.81 933.5,669.22 925.5,673.79 917.5,677.54 909.5,680.88 901.5,682.84 893.5,684.61 885.5,684.61 877.5,683.23 869.5,681.63 861.5,680.03 853.5,678.23 845.5,677.01 837.5,676.02 829.5,674.63 821.5,673.03 813.5,671.62 805.5,670.22 797.5,669.21 789.5,668.03 781.5,666.01 773.5,666.00 765.5,667.03 757.5,669.11 749.5,673.40 741.5,677.94 733.5,685.16 725.5,693.22 717.5,701.25 709.5,709.70 701.5,718.41 693.5,726.99 685.5,735.35 677.5,743.22 669.5,749.51 661.5,755.60 653.5,760.00 645.5,763.94 637.5,766.87 629.5,768.84 621.5,770.43 613.5,771.81 605.5,772.00 597.5,771.81 589.5,770.25 581.5,767.92 573.5,764.03 565.5,758.99 557.5,753.60 549.5,748.40 541.5,743.04 533.5,737.00 525.5,732.29 517.5,728.45 509.5,724.79 501.5,722.72 493.5,722.10 485.5,722.10 477.5,722.10 469.5,722.30 461.5,723.11 453.5,724.32 445.5,725.72 437.5,727.12 429.5,728.32 421.5,729.72 413.5,730.71 405.5,731.71 397.5,732.10 389.5,732.71 381.5,733.71 373.5,734.71 365.5,735.73 357.5,737.77 349.5,740.80 341.5,743.82 333.5,747.25 325.5,751.26 317.5,754.84 309.5,758.25 301.5,762.19 293.5,766.52 285.5,768.44 277.5,770.03 269.5,771.42 261.5,772.61 253.5,773.00 245.5,773.40 237.5,773.40 229.5,773.40 221.5,773.00 213.5,772.41 205.5,771.41 197.5,770.41 189.5,769.22 181.5,768.02 173.5,766.82 165.5,765.62 157.5,764.42 149.5,763.21 141.5,762.21 133.5,761.11 125.5,760.11 117.5,759.21 109.5,758.70 101.5,758.20 93.5,757.80 85.5,757.00 77.5,756.90 69.5,756.90 61.5,757.00 53.5,757.70 45.5,757.90 37.5,758.00 29.5,758.71 21.5,759.51 13.5,760.73 5.5,762.54" fill="#f00"/>
<rect x="5" y="145" width="1520" height="4" fill="#000"/>
<rect x="5" y="244" width="1520" height="4" fill="#0000cd"/>
</g>
<line x1="1228.5" y1="148" x2="1277" y2="255" stroke="#f00" stroke-width="6" stroke-linecap="round"/>
<polygon points="1264,260 1286,250 1288.5,287" fill="#f00"/>
<g shape-rendering="crispEdges">
<rect x="2" y="2" width="2" height="807" fill="#fff"/>
<rect x="1524" y="2" width="71" height="807" fill="#fff"/>
<rect x="2" y="783" width="1593" height="26" fill="#fff"/>
<rect x="2" y="632" width="1593" height="1" fill="#fff"/>
<rect x="4" y="4" width="1520" height="1" fill="#000"/>
<rect x="4" y="4" width="1" height="628" fill="#000"/>
<rect x="1523" y="4" width="1" height="628" fill="#000"/>
<rect x="4" y="631" width="1520" height="1" fill="#000"/>
<rect x="4" y="633" width="1520" height="1" fill="#000"/>
<rect x="4" y="633" width="1" height="150" fill="#000"/>
<rect x="1523" y="633" width="1" height="150" fill="#000"/>
<rect x="4" y="782" width="1521" height="1" fill="#000"/>
<rect x="1524" y="11" width="2" height="1" fill="#000"/>
<rect x="1524" y="76" width="2" height="1" fill="#000"/>
<rect x="1524" y="141" width="2" height="1" fill="#000"/>
<rect x="1524" y="206" width="2" height="1" fill="#000"/>
<rect x="1524" y="271" width="2" height="1" fill="#000"/>
<rect x="1524" y="336" width="2" height="1" fill="#000"/>
<rect x="1524" y="401" width="2" height="1" fill="#000"/>
<rect x="1524" y="466" width="2" height="1" fill="#000"/>
<rect x="1524" y="531" width="2" height="1" fill="#000"/>
<rect x="1524" y="596" width="2" height="1" fill="#000"/>
<rect x="1524" y="633" width="1" height="1" fill="#000"/>
<rect x="1524" y="745" width="1" height="1" fill="#000"/>
<rect x="1524" y="782" width="1" height="1" fill="#000"/>
<rect x="5" y="783" width="1" height="3" fill="#000"/>
<rect x="133" y="783" width="1" height="3" fill="#000"/>
<rect x="261" y="783" width="1" height="3" fill="#000"/>
<rect x="389" y="783" width="1" height="3" fill="#000"/>
<rect x="517" y="783" width="1" height="3" fill="#000"/>
<rect x="645" y="783" width="1" height="3" fill="#000"/>
<rect x="773" y="783" width="1" height="3" fill="#000"/>
<rect x="901" y="783" width="1" height="3" fill="#000"/>
<rect x="1029" y="783" width="1" height="3" fill="#000"/>
<rect x="1157" y="783" width="1" height="3" fill="#000"/>
</g>
<g shape-rendering="crispEdges">
<rect x="1523" y="145" width="2" height="4" fill="#000"/>
<rect x="1523" y="244" width="2" height="4" fill="#0000cd"/>
</g>
<polygon points="6.5,11 20.5,11 13.5,18" fill="#000"/>
<text x="25.7" y="21" textLength="78.8" lengthAdjust="spacingAndGlyphs">XAUUSD-,H4</text>
<text x="112.5" y="21" textLength="51.5" lengthAdjust="spacingAndGlyphs">1957.93</text>
<text x="168.5" y="21" textLength="51.5" lengthAdjust="spacingAndGlyphs">1963.86</text>
<text x="224.5" y="21" textLength="51.5" lengthAdjust="spacingAndGlyphs">1957.57</text>
<text x="280.5" y="21" textLength="51.5" lengthAdjust="spacingAndGlyphs">1961.86</text>
<text x="9" y="651" textLength="95.5" lengthAdjust="spacingAndGlyphs">MACD(12,26,9)</text>
<text x="108.6" y="651" textLength="40" lengthAdjust="spacingAndGlyphs">-0.119</text>
<text x="153.2" y="651" textLength="35.5" lengthAdjust="spacingAndGlyphs">5.112</text>
<text x="1530" y="17" textLength="51.8" lengthAdjust="spacingAndGlyphs">2018.15</text>
<text x="1530" y="82" textLength="51.8" lengthAdjust="spacingAndGlyphs">1995.05</text>
<text x="1530" y="147" textLength="51.8" lengthAdjust="spacingAndGlyphs">1972.20</text>
<text x="1530" y="212" textLength="51.8" lengthAdjust="spacingAndGlyphs">1949.20</text>
<text x="1530" y="277" textLength="51.8" lengthAdjust="spacingAndGlyphs">1926.45</text>
<text x="1530" y="342" textLength="51.8" lengthAdjust="spacingAndGlyphs">1903.35</text>
<text x="1530" y="407" textLength="51.8" lengthAdjust="spacingAndGlyphs">1880.25</text>
<text x="1530" y="472" textLength="51.8" lengthAdjust="spacingAndGlyphs">1857.50</text>
<text x="1530" y="537" textLength="51.8" lengthAdjust="spacingAndGlyphs">1834.40</text>
<text x="1530" y="602" textLength="51.8" lengthAdjust="spacingAndGlyphs">1811.65</text>
<text x="1527" y="650" textLength="43.8" lengthAdjust="spacingAndGlyphs">27.116</text>
<text x="1527" y="751" textLength="27.8" lengthAdjust="spacingAndGlyphs">0.00</text>
<text x="1527" y="778" textLength="40.8" lengthAdjust="spacingAndGlyphs">-8.825</text>
<g shape-rendering="crispEdges">
<rect x="1525" y="141" width="62" height="17" fill="#000"/>
<rect x="1525" y="162" width="62" height="17" fill="#000"/>
<rect x="1525" y="240" width="62" height="17" fill="#0000cd"/>
</g>
<text x="1530" y="155" class="w" textLength="51.8" lengthAdjust="spacingAndGlyphs">1970.00</text>
<text x="1530" y="176" class="w" textLength="51.8" lengthAdjust="spacingAndGlyphs">1961.86</text>
<text x="1530" y="254" class="w" textLength="51.8" lengthAdjust="spacingAndGlyphs">1935.00</text>
<text x="4" y="800" textLength="77.8" lengthAdjust="spacingAndGlyphs">21 Feb 2023</text>
<text x="132" y="800" textLength="83.2" lengthAdjust="spacingAndGlyphs">23 Feb 16:00</text>
<text x="260" y="800" textLength="83.2" lengthAdjust="spacingAndGlyphs">28 Feb 08:00</text>
<text x="388" y="800" textLength="75.0" lengthAdjust="spacingAndGlyphs">3 Mar 00:00</text>
<text x="516" y="800" textLength="75.0" lengthAdjust="spacingAndGlyphs">7 Mar 16:00</text>
<text x="644" y="800" textLength="83.2" lengthAdjust="spacingAndGlyphs">10 Mar 08:00</text>
<text x="772" y="800" textLength="83.2" lengthAdjust="spacingAndGlyphs">15 Mar 00:00</text>
<text x="900" y="800" textLength="83.2" lengthAdjust="spacingAndGlyphs">17 Mar 16:00</text>
<text x="1028" y="800" textLength="83.2" lengthAdjust="spacingAndGlyphs">22 Mar 08:00</text>
<text x="1156" y="800" textLength="83.2" lengthAdjust="spacingAndGlyphs">27 Mar 00:00</text>
</svg></body></html>
